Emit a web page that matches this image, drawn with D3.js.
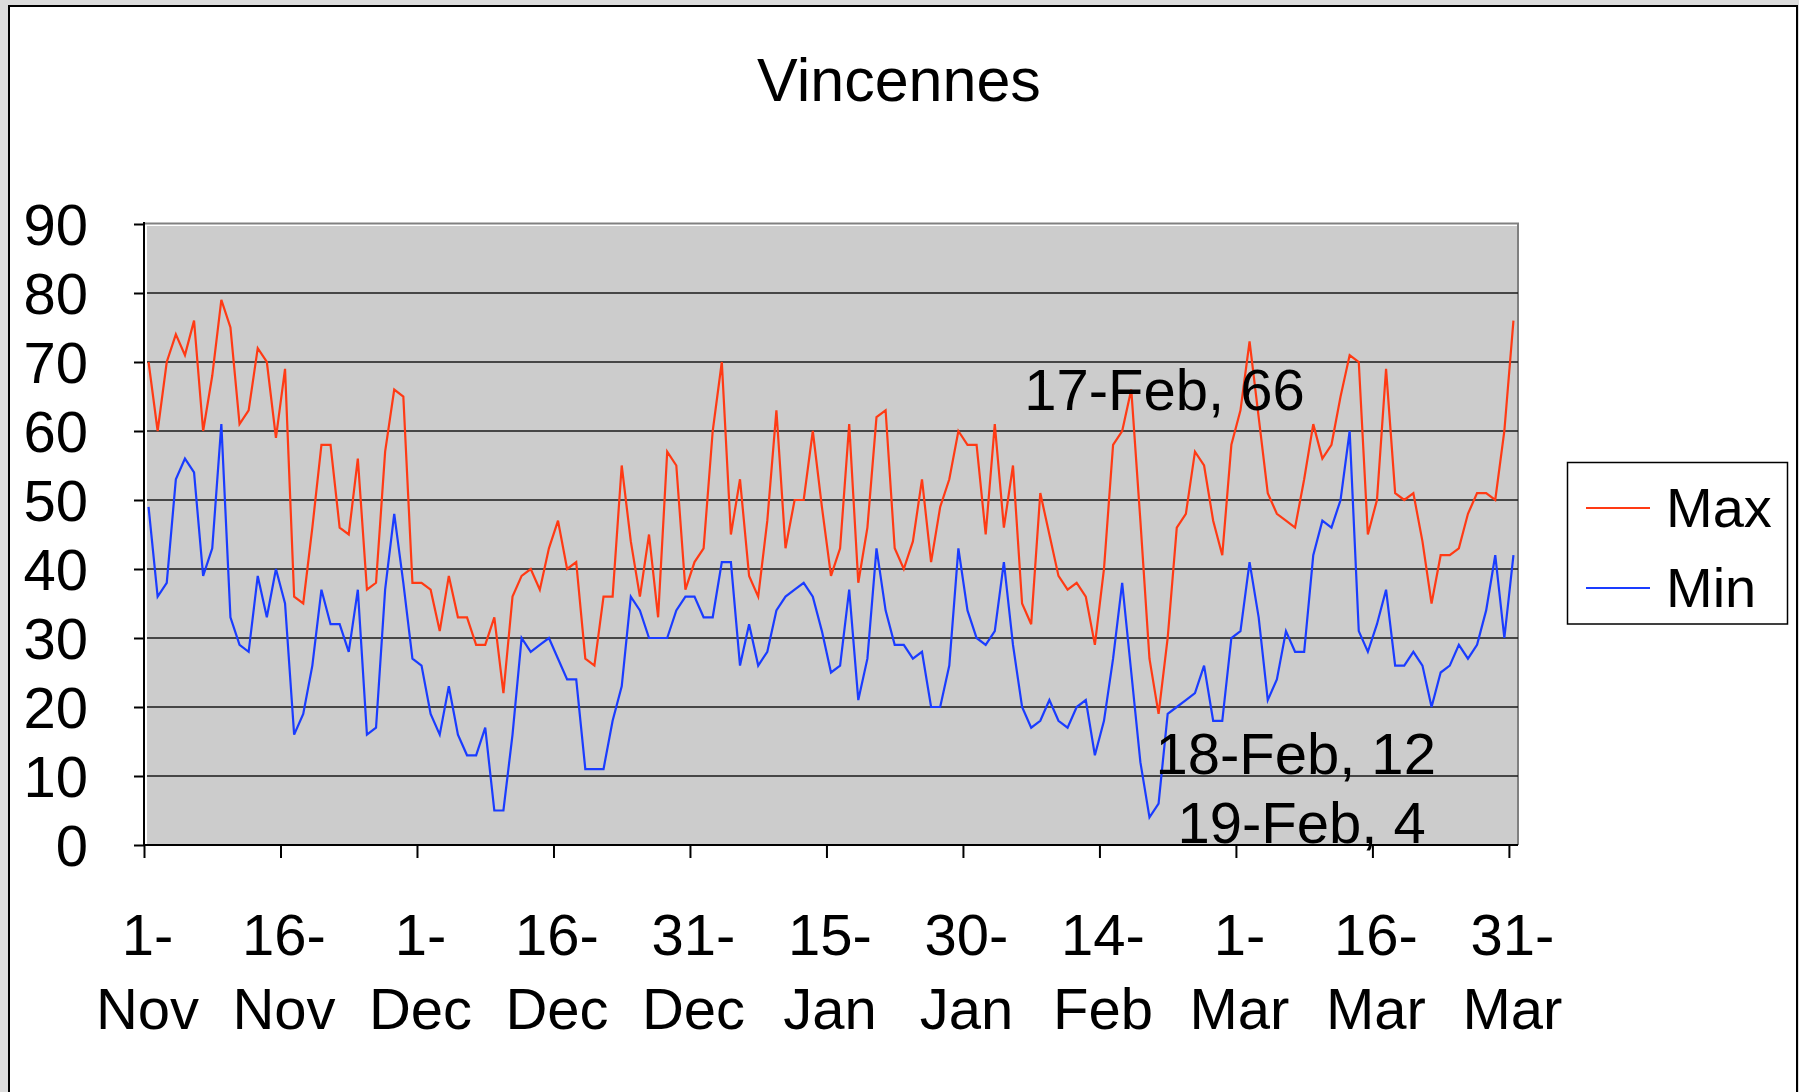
<!DOCTYPE html>
<html><head><meta charset="utf-8">
<script src="https://cdn.jsdelivr.net/npm/d3@7"></script>
<style>
html,body{margin:0;padding:0;background:#dcdcdc;overflow:hidden;}
svg{display:block;}
text{font-family:"Liberation Sans",Arial,Helvetica,sans-serif;fill:#000;}
</style></head><body>
<svg id="chart" width="1799" height="1092"></svg>
<script>
// ---------------- data ----------------
const chartTitle = "Vincennes";
const seriesNames = ["Max", "Min"];
// daily values, 1-Nov .. 31-Mar (151 days)
const maxTemps = [
  70,60,70,74,71,76,60,68,79,75,61,63,72,70,59,69,
  36,35,46,58,58,46,45,56,37,38,57,66,65,38,38,
  37,31,39,33,33,29,29,33,22,36,39,40,37,43,47,
  40,41,27,26,36,36,55,44,36,45,33,57,55,37,41,
  43,60,70,45,53,39,36,47,63,43,50,50,60,49,39,
  43,61,38,46,62,63,43,40,44,53,41,49,53,60,58,
  58,45,61,46,55,35,32,51,45,39,37,38,36,29,40,
  58,60,66,47,27,19,30,46,48,57,55,47,42,58,63,
  73,62,51,48,47,46,53,61,56,58,65,71,70,45,50,
  69,51,50,51,44,35,42,42,43,48,51,51,50,60,76
];
const minTemps = [
  49,36,38,53,56,54,39,43,61,33,29,28,39,33,40,35,
  16,19,26,37,32,32,28,37,16,17,37,48,38,27,26,
  19,16,23,16,13,13,17,5,5,16,30,28,29,30,27,
  24,24,11,11,11,18,23,36,34,30,30,30,34,36,36,
  33,33,41,41,26,32,26,28,34,36,37,38,36,31,25,
  26,37,21,27,43,34,29,29,27,28,20,20,26,43,34,
  30,29,31,41,29,20,17,18,21,18,17,20,21,13,18,
  27,38,25,12,4,6,19,20,21,22,26,18,18,30,31,
  41,33,21,24,31,28,28,42,47,46,50,60,31,28,32,
  37,26,26,28,26,20,25,26,29,27,29,34,42,30,42
];
const xTickDays   = [0,15,30,45,60,75,90,105,120,135,150];
const xTickLabels = ["1-Nov","16-Nov","1-Dec","16-Dec","31-Dec","15-Jan","30-Jan","14-Feb","1-Mar","16-Mar","31-Mar"];
const yTicks = [0,10,20,30,40,50,60,70,80,90];
// data labels: day index, series index, text
const labelDays   = [108, 109, 110];
const labelSeries = [0, 1, 1];
const labelTexts  = ["17-Feb, 66", "18-Feb, 12", "19-Feb, 4"];

// ---------------- layout ----------------
const W = 1799, H = 1092;
const plot = {left:144, right:1518, top:224, bottom:845};
const colors = ["#ff3a14", "#1a3cff"];
const font = 58;
const labelOffsets = [[-107, 20], [15, 12], [28, 26]];

const svg = d3.select("#chart");
const series = [maxTemps, minTemps];
const nDays = maxTemps.length;

// outer frame
svg.append("rect").attr("x",0).attr("y",0).attr("width",W).attr("height",H).attr("fill","#dcdcdc");
svg.append("rect").attr("x",9).attr("y",6).attr("width",1788).attr("height",1096)
  .attr("fill","#fff").attr("stroke","#000").attr("stroke-width",2);

const x = d3.scaleLinear().domain([0, nDays]).range([plot.left, plot.right]);
const y = d3.scaleLinear().domain([0, 90]).range([plot.bottom, plot.top]);

// plot area
svg.append("rect").attr("x",plot.left+3).attr("y",plot.top+2)
  .attr("width",plot.right-plot.left-3).attr("height",plot.bottom-plot.top-2).attr("fill","#cccccc");
// plot border (top & right)
svg.append("path").attr("d",`M${plot.left},${plot.top-0.5}H${plot.right}V${plot.bottom}`)
  .attr("fill","none").attr("stroke","#808080").attr("stroke-width",2);

// gridlines
svg.append("g").selectAll("line").data(yTicks.filter(v=>v>0 && v<90)).join("line")
  .attr("x1",plot.left+3).attr("x2",plot.right).attr("y1",d=>y(d)).attr("y2",d=>y(d))
  .attr("stroke","#1a1a1a").attr("stroke-width",1.6);

// y axis
const yAxis = d3.axisLeft(y).tickValues(yTicks).tickSize(10).tickPadding(0).tickFormat(d3.format("d"));
const gy = svg.append("g").attr("transform",`translate(${plot.left},0)`).call(yAxis);
gy.select(".domain").attr("stroke","#000").attr("stroke-width",2).attr("d",`M0,${plot.top-2}V${plot.bottom}`);
gy.selectAll(".tick line").attr("stroke","#000").attr("stroke-width",2);
gy.selectAll(".tick text").attr("x",-56).attr("dy","0.36em").style("font-size",font+"px")
  .style("font-family","'Liberation Sans',Arial,sans-serif").attr("fill","#000");

// x axis
const xAxis = d3.axisBottom(x).tickValues(xTickDays).tickSize(13).tickFormat("");
const gx = svg.append("g").attr("transform",`translate(0,${plot.bottom})`).call(xAxis);
gx.select(".domain").attr("stroke","#000").attr("stroke-width",2).attr("d",`M${plot.left},0H${plot.right}`);
gx.selectAll(".tick line").attr("stroke","#000").attr("stroke-width",2);
gx.selectAll(".tick").each(function(d,i){
  const parts = xTickLabels[i].split("-");
  const t = d3.select(this).append("text").attr("text-anchor","middle")
    .style("font-size",font+"px").style("font-family","'Liberation Sans',Arial,sans-serif").attr("fill","#000");
  t.append("tspan").attr("x",3).attr("y",110).text(parts[0]+"-");
  t.append("tspan").attr("x",3).attr("y",184).text(parts[1]);
});

// lines
const line = d3.line().x((d,i)=>x(i+0.5)).y(d=>y(d));
series.forEach((s,k)=>{
  svg.append("path").datum(s).attr("d",line).attr("fill","none")
    .attr("stroke",colors[k]).attr("stroke-width",2.2).attr("stroke-linejoin","miter");
});

// data labels
labelDays.forEach((d,i)=>{
  const v = series[labelSeries[i]][d];
  svg.append("text").attr("x",x(d+0.5)+labelOffsets[i][0]).attr("y",y(v)+labelOffsets[i][1])
    .style("font-size",font+"px").text(labelTexts[i]);
});

// title
svg.append("text").attr("x",899).attr("y",101).attr("text-anchor","middle")
  .style("font-size","61px").text(chartTitle);

// legend
const lg = svg.append("g");
lg.append("rect").attr("x",1567.5).attr("y",462.5).attr("width",220).attr("height",161.5)
  .attr("fill","#fff").attr("stroke","#000").attr("stroke-width",1.5);
seriesNames.forEach((n,k)=>{
  const ly = 508 + k*80;
  lg.append("line").attr("x1",1586).attr("x2",1650).attr("y1",ly).attr("y2",ly)
    .attr("stroke",colors[k]).attr("stroke-width",1.8);
  lg.append("text").attr("x",1666).attr("y",ly+19).style("font-size","56px").text(n);
});
</script>
</body></html>
